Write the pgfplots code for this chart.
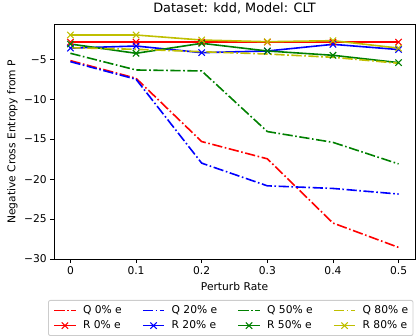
\documentclass[border=0pt]{standalone}
\usepackage{fontspec}
\setmainfont{DejaVu Sans}
\usepackage{pgfplots}
\pgfplotsset{compat=1.18}
\definecolor{mred}{rgb}{1,0,0}
\definecolor{mblue}{rgb}{0,0,1}
\definecolor{mgreen}{rgb}{0,0.5,0}
\definecolor{myellow}{rgb}{0.75,0.75,0}
\tikzset{
  qline/.style={line width=1.6pt, dash pattern=on 10.27pt off 2.57pt on 1.6pt off 2.57pt},
  rline/.style={line width=1.6pt, solid, mark=x, mark size=4.5pt, mark options={solid, line width=1.07pt}},
}
\newcommand{\lent}[2]{\makebox[#1][l]{\hspace*{6.6pt}#2}}
\begin{document}
\begin{tikzpicture}[font=\fontsize{10.7}{12.8}\selectfont]
\begin{axis}[
  scale only axis, width=361pt, height=235pt,
  xmin=-0.025, xmax=0.525, ymin=-30.04, ymax=-0.62,
  axis line style={line width=0.86pt},
  tick align=outside, major tick length=3.75pt,
  every tick/.style={black, line width=0.86pt},
  xtick pos=bottom, ytick pos=left,
  tick label style={font=\fontsize{10.7}{12.8}\selectfont},
  xtick={0,0.1,0.2,0.3,0.4,0.5}, xticklabels={0,0.1,0.2,0.3,0.4,0.5},
  ytick={-30,-25,-20,-15,-10,-5}, yticklabels={−30,−25,−20,−15,−10,−5},
  title={Dataset: kdd, Model: CLT},
  title style={font=\fontsize{12.84}{15}\selectfont, at={(axis description cs:0.5,1)}, anchor=base, yshift=6pt, inner sep=0pt},
  xlabel={Perturb Rate},
  xlabel style={font=\fontsize{10.7}{12.8}\selectfont, at={(axis description cs:0.5,-0.1336)}, anchor=base, inner sep=0pt},
  ylabel={Negative Cross Entropy from P},
  ylabel style={font=\fontsize{10.7}{12.8}\selectfont, at={(axis description cs:-0.115,0.5)}, anchor=center, inner sep=0pt},
  legend columns=4, legend cell align=left,
  legend style={at={(axis description cs:-0.0166,-0.173)}, anchor=north west,
    draw=black!20, line width=0.86pt, rounded corners=2pt, fill=white,
    inner sep=5pt, row sep=5.4pt, column sep=0pt,
    nodes={inner sep=0pt, text height=7.8pt, text depth=2.1pt},
    font=\fontsize{10.7}{12.8}\selectfont},
  legend image code/.code={\draw[mark repeat=2,mark phase=2,#1] plot coordinates {(0pt,0pt) (10.7pt,0pt) (21.4pt,0pt)};},
]
\addlegendimage{mred, qline}\addlegendentry{\lent{65.6pt}{Q 0\% e}}
\addlegendimage{mblue, qline}\addlegendentry{\lent{72.5pt}{Q 20\% e}}
\addlegendimage{mgreen, qline}\addlegendentry{\lent{72.5pt}{Q 50\% e}}
\addlegendimage{myellow, qline}\addlegendentry{\lent{52pt}{Q 80\% e}}
\addlegendimage{mred, rline}\addlegendentry{\lent{65.6pt}{R 0\% e}}
\addlegendimage{mblue, rline}\addlegendentry{\lent{72.5pt}{R 20\% e}}
\addlegendimage{mgreen, rline}\addlegendentry{\lent{72.5pt}{R 50\% e}}
\addlegendimage{myellow, rline}\addlegendentry{\lent{52pt}{R 80\% e}}

\addplot[mred, qline, forget plot] coordinates {(0,-5.17) (0.1,-7.38) (0.2,-15.3) (0.3,-17.46) (0.4,-25.5) (0.5,-28.55)};
\addplot[mred, rline, forget plot] coordinates {(0,-2.85) (0.1,-2.85) (0.2,-2.85) (0.3,-2.85) (0.4,-2.85) (0.5,-2.85)};
\addplot[mblue, qline, forget plot] coordinates {(0,-5.3) (0.1,-7.5) (0.2,-18.0) (0.3,-20.84) (0.4,-21.17) (0.5,-21.87)};
\addplot[mblue, rline, forget plot] coordinates {(0,-3.6) (0.1,-3.34) (0.2,-4.17) (0.3,-3.96) (0.4,-3.13) (0.5,-3.78)};
\addplot[mgreen, qline, forget plot] coordinates {(0,-4.25) (0.1,-6.34) (0.2,-6.46) (0.3,-14.05) (0.4,-15.4) (0.5,-18.1)};
\addplot[mgreen, rline, forget plot] coordinates {(0,-3.09) (0.1,-4.25) (0.2,-3.0) (0.3,-3.96) (0.4,-4.5) (0.5,-5.42)};
\addplot[myellow, qline, forget plot] coordinates {(0,-3.55) (0.1,-3.75) (0.2,-4.05) (0.3,-4.34) (0.4,-4.75) (0.5,-5.5)};
\addplot[myellow, rline, forget plot] coordinates {(0,-1.96) (0.1,-1.96) (0.2,-2.59) (0.3,-2.8) (0.4,-2.67) (0.5,-3.6)};
\end{axis}
\pgfresetboundingbox
\path[use as bounding box] (-54pt,-75.7pt) rectangle (363pt,259.3pt);
\end{tikzpicture}
\end{document}
